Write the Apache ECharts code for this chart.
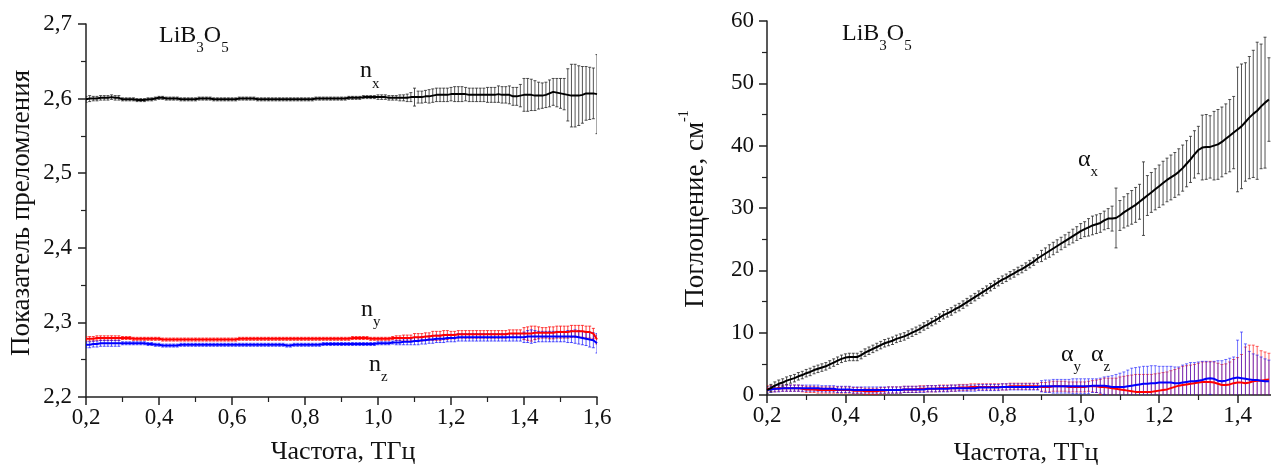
<!DOCTYPE html>
<html><head><meta charset="utf-8">
<script src="https://cdn.jsdelivr.net/npm/echarts@6/dist/echarts.min.js"></script>
<style>html,body{margin:0;padding:0;background:#fff}#c{width:1271px;height:466px}</style>
</head><body><div id="c"></div>
<script>
// Frequency grid, THz
const FREQ = [0.20,0.21,0.22,0.23,0.24,0.25,0.26,0.27,0.28,0.29,0.30,0.31,0.32,0.33,0.34,0.35,0.36,0.37,0.38,0.39,
0.40,0.41,0.42,0.43,0.44,0.45,0.46,0.47,0.48,0.49,0.50,0.51,0.52,0.53,0.54,0.55,0.56,0.57,0.58,0.59,
0.60,0.61,0.62,0.63,0.64,0.65,0.66,0.67,0.68,0.69,0.70,0.71,0.72,0.73,0.74,0.75,0.76,0.77,0.78,0.79,
0.80,0.81,0.82,0.83,0.84,0.85,0.86,0.87,0.88,0.89,0.90,0.91,0.92,0.93,0.94,0.95,0.96,0.97,0.98,0.99,
1.00,1.01,1.02,1.03,1.04,1.05,1.06,1.07,1.08,1.09,1.10,1.11,1.12,1.13,1.14,1.15,1.16,1.17,1.18,1.19,
1.20,1.21,1.22,1.23,1.24,1.25,1.26,1.27,1.28,1.29,1.30,1.31,1.32,1.33,1.34,1.35,1.36,1.37,1.38,1.39,
1.40,1.41,1.42,1.43,1.44,1.45,1.46,1.47,1.48,1.49,1.50,1.51,1.52,1.53,1.54,1.55,1.56,1.57,1.58,1.59,1.60];

// Refractive index n_x, n_y, n_z (0.20..1.60 THz)
const NX = [2.599,2.600,2.600,2.600,2.601,2.601,2.601,2.602,2.601,2.601,
2.599,2.599,2.599,2.599,2.598,2.598,2.598,2.599,2.599,2.600,
2.601,2.601,2.600,2.600,2.600,2.600,2.599,2.599,2.599,2.599,
2.599,2.600,2.600,2.600,2.600,2.599,2.599,2.599,2.599,2.599,
2.599,2.599,2.600,2.600,2.600,2.600,2.600,2.599,2.599,2.599,
2.599,2.599,2.599,2.599,2.599,2.599,2.599,2.599,2.599,2.599,
2.599,2.599,2.599,2.600,2.600,2.600,2.600,2.600,2.600,2.600,
2.600,2.600,2.601,2.601,2.601,2.601,2.602,2.602,2.602,2.602,
2.602,2.602,2.602,2.601,2.601,2.601,2.601,2.601,2.601,2.602,
2.602,2.602,2.602,2.603,2.603,2.604,2.605,2.605,2.605,2.605,
2.606,2.606,2.606,2.606,2.606,2.605,2.605,2.605,2.605,2.605,
2.605,2.605,2.605,2.606,2.605,2.605,2.605,2.603,2.603,2.604,
2.605,2.605,2.605,2.604,2.604,2.604,2.605,2.607,2.609,2.608,
2.607,2.606,2.605,2.604,2.604,2.604,2.605,2.607,2.607,2.607,2.606];
const NX_ERR = [0.004,0.004,0.003,0.003,0.003,0.003,0.003,0.003,0.003,0.003,
0.002,0.002,0.002,0.002,0.002,0.002,0.002,0.002,0.002,0.002,
0.002,0.002,0.002,0.002,0.002,0.002,0.002,0.002,0.002,0.002,
0.002,0.002,0.002,0.002,0.002,0.002,0.002,0.002,0.002,0.002,
0.002,0.002,0.002,0.002,0.002,0.002,0.002,0.002,0.002,0.002,
0.002,0.002,0.002,0.002,0.002,0.002,0.002,0.002,0.002,0.002,
0.002,0.002,0.002,0.002,0.002,0.002,0.002,0.002,0.002,0.002,
0.002,0.002,0.002,0.002,0.002,0.002,0.002,0.002,0.002,0.002,
0.003,0.003,0.003,0.003,0.003,0.003,0.004,0.004,0.005,0.006,
0.012,0.008,0.008,0.008,0.009,0.009,0.009,0.009,0.009,0.009,
0.009,0.010,0.010,0.010,0.009,0.009,0.009,0.009,0.009,0.009,
0.010,0.010,0.010,0.011,0.011,0.011,0.012,0.012,0.012,0.015,
0.022,0.022,0.021,0.020,0.018,0.017,0.017,0.018,0.018,0.019,
0.020,0.021,0.035,0.042,0.042,0.040,0.038,0.036,0.035,0.034,0.053];
const NY = [2.278,2.278,2.278,2.279,2.279,2.279,2.279,2.279,2.279,2.279,
2.279,2.279,2.279,2.278,2.278,2.278,2.278,2.278,2.278,2.278,
2.278,2.277,2.277,2.277,2.277,2.277,2.277,2.277,2.277,2.277,
2.277,2.277,2.277,2.277,2.277,2.277,2.277,2.277,2.277,2.277,
2.277,2.277,2.278,2.278,2.278,2.278,2.278,2.278,2.278,2.278,
2.278,2.278,2.278,2.278,2.278,2.278,2.278,2.278,2.278,2.278,
2.278,2.278,2.278,2.278,2.278,2.278,2.278,2.278,2.278,2.278,
2.278,2.278,2.278,2.279,2.279,2.279,2.279,2.279,2.278,2.278,
2.278,2.278,2.278,2.278,2.279,2.279,2.279,2.279,2.279,2.279,
2.280,2.280,2.280,2.281,2.281,2.282,2.282,2.282,2.283,2.283,
2.283,2.283,2.284,2.284,2.284,2.284,2.284,2.284,2.284,2.284,
2.284,2.284,2.284,2.284,2.284,2.284,2.285,2.285,2.285,2.285,
2.285,2.285,2.285,2.286,2.286,2.286,2.286,2.286,2.286,2.287,
2.287,2.287,2.287,2.288,2.288,2.288,2.288,2.287,2.287,2.285,2.277];
const NY_ERR = [0.003,0.003,0.003,0.003,0.003,0.003,0.003,0.003,0.003,0.003,
0.002,0.002,0.002,0.002,0.002,0.002,0.002,0.002,0.002,0.002,
0.002,0.002,0.002,0.002,0.002,0.002,0.002,0.002,0.002,0.002,
0.002,0.002,0.002,0.002,0.002,0.002,0.002,0.002,0.002,0.002,
0.002,0.002,0.002,0.002,0.002,0.002,0.002,0.002,0.002,0.002,
0.002,0.002,0.002,0.002,0.002,0.002,0.002,0.002,0.002,0.002,
0.002,0.002,0.002,0.002,0.002,0.002,0.002,0.002,0.002,0.002,
0.002,0.002,0.002,0.002,0.002,0.002,0.002,0.002,0.002,0.002,
0.002,0.002,0.002,0.002,0.002,0.003,0.003,0.004,0.004,0.004,
0.005,0.005,0.005,0.005,0.005,0.006,0.006,0.006,0.006,0.006,
0.005,0.005,0.005,0.005,0.005,0.005,0.005,0.005,0.005,0.005,
0.005,0.005,0.005,0.005,0.005,0.005,0.005,0.005,0.005,0.005,
0.008,0.009,0.010,0.009,0.008,0.007,0.007,0.008,0.008,0.008,
0.008,0.008,0.008,0.008,0.008,0.008,0.008,0.008,0.008,0.007,0.006];
const NZ = [2.270,2.270,2.271,2.271,2.272,2.272,2.272,2.272,2.272,2.272,
2.272,2.272,2.272,2.272,2.272,2.272,2.272,2.271,2.271,2.270,
2.270,2.269,2.269,2.269,2.269,2.269,2.270,2.270,2.270,2.270,
2.270,2.270,2.270,2.270,2.270,2.270,2.270,2.270,2.270,2.270,
2.270,2.270,2.270,2.270,2.270,2.270,2.270,2.270,2.270,2.270,
2.270,2.270,2.270,2.270,2.270,2.269,2.269,2.270,2.270,2.270,
2.270,2.270,2.270,2.270,2.270,2.271,2.271,2.271,2.271,2.271,
2.271,2.271,2.271,2.271,2.271,2.271,2.271,2.271,2.271,2.271,
2.272,2.272,2.272,2.272,2.273,2.273,2.273,2.274,2.274,2.274,
2.275,2.275,2.276,2.276,2.277,2.277,2.278,2.278,2.278,2.279,
2.279,2.279,2.280,2.280,2.280,2.280,2.280,2.280,2.280,2.280,
2.280,2.280,2.280,2.280,2.280,2.280,2.280,2.280,2.280,2.280,
2.280,2.281,2.281,2.281,2.281,2.281,2.281,2.281,2.281,2.281,
2.281,2.281,2.281,2.281,2.281,2.280,2.279,2.278,2.277,2.276,2.272];
const NZ_ERR = [0.004,0.004,0.004,0.004,0.004,0.004,0.004,0.004,0.004,0.004,
0.002,0.002,0.002,0.002,0.002,0.002,0.002,0.002,0.002,0.002,
0.002,0.002,0.002,0.002,0.002,0.002,0.002,0.002,0.002,0.002,
0.002,0.002,0.002,0.002,0.002,0.002,0.002,0.002,0.002,0.002,
0.002,0.002,0.002,0.002,0.002,0.002,0.002,0.002,0.002,0.002,
0.002,0.002,0.002,0.002,0.002,0.002,0.002,0.002,0.002,0.002,
0.002,0.002,0.002,0.002,0.002,0.002,0.002,0.002,0.002,0.002,
0.002,0.002,0.002,0.002,0.002,0.002,0.002,0.002,0.002,0.002,
0.002,0.002,0.002,0.002,0.002,0.003,0.003,0.004,0.004,0.004,
0.005,0.005,0.005,0.005,0.005,0.005,0.005,0.005,0.005,0.005,
0.005,0.005,0.005,0.005,0.005,0.005,0.005,0.005,0.005,0.005,
0.005,0.005,0.005,0.005,0.005,0.005,0.005,0.005,0.005,0.005,
0.007,0.008,0.009,0.008,0.007,0.007,0.007,0.007,0.007,0.007,
0.007,0.007,0.008,0.008,0.009,0.009,0.009,0.009,0.010,0.010,0.013];

// Absorption alpha_x, alpha_y, alpha_z, cm^-1 (0.20..1.48 THz)
const AX = [0.8,1.1,1.5,1.8,2.0,2.3,2.5,2.7,3.0,3.2,
3.5,3.7,4.0,4.2,4.4,4.6,4.9,5.2,5.5,5.8,
6.0,6.1,6.1,6.1,6.4,6.8,7.1,7.4,7.7,8.0,
8.3,8.5,8.7,9.0,9.2,9.4,9.7,10.0,10.3,10.6,
11.0,11.3,11.7,12.0,12.4,12.8,13.1,13.4,13.8,14.1,
14.5,14.9,15.3,15.7,16.1,16.5,16.9,17.3,17.7,18.1,
18.5,18.8,19.2,19.5,19.9,20.2,20.6,21.0,21.4,21.9,
22.3,22.7,23.1,23.5,23.9,24.3,24.7,25.1,25.5,25.9,
26.3,26.6,26.9,27.2,27.4,27.6,28.0,28.3,28.3,28.4,
28.8,29.3,29.7,30.1,30.5,31.0,31.5,32.0,32.5,33.0,
33.5,34.0,34.5,34.9,35.3,35.8,36.4,37.1,37.8,38.6,
39.3,39.7,39.8,39.8,40.0,40.2,40.6,41.1,41.6,42.1,
42.6,43.1,43.8,44.5,45.1,45.6,46.3,46.9,47.4];
const AX_ERR = [0.6,0.6,0.6,0.6,0.6,0.6,0.6,0.6,0.6,0.6,
0.6,0.6,0.6,0.6,0.6,0.6,0.6,0.6,0.6,0.6,
0.6,0.6,0.6,0.6,0.6,0.6,0.6,0.6,0.6,0.6,
0.6,0.6,0.6,0.6,0.6,0.6,0.6,0.6,0.6,0.6,
0.6,0.6,0.6,0.6,0.6,0.6,0.6,0.6,0.6,0.6,
0.6,0.6,0.6,0.6,0.6,0.6,0.6,0.6,0.6,0.6,
0.6,0.6,0.6,0.6,0.6,0.6,0.6,0.6,0.6,0.6,
0.9,0.9,1.0,1.0,1.0,1.0,1.0,1.0,1.1,1.1,
1.2,1.2,1.4,1.5,1.5,1.5,1.5,1.6,2.0,4.8,
2.4,2.5,2.6,2.7,2.8,2.8,5.9,3.2,3.2,3.3,
3.4,3.5,3.5,3.6,3.6,3.7,3.7,3.7,3.7,3.8,
3.8,5.2,5.2,5.0,5.5,5.6,5.6,5.6,5.8,5.8,
10.0,10.0,9.5,9.8,10.2,11.0,10.0,10.5,6.7];
const AY = [1.0,1.0,1.0,1.1,1.1,1.1,1.1,1.1,1.1,1.0,
0.9,0.9,0.9,0.8,0.8,0.8,0.8,0.8,0.8,0.8,
0.8,0.8,0.7,0.7,0.7,0.6,0.6,0.6,0.6,0.7,
0.7,0.8,0.8,0.8,0.8,0.9,0.9,0.9,0.9,1.0,
1.0,1.0,1.0,1.0,1.1,1.1,1.1,1.1,1.1,1.2,
1.2,1.2,1.3,1.3,1.3,1.3,1.3,1.3,1.3,1.3,
1.3,1.3,1.4,1.4,1.4,1.4,1.4,1.4,1.4,1.4,
1.3,1.3,1.3,1.4,1.4,1.4,1.4,1.3,1.3,1.3,
1.3,1.3,1.4,1.4,1.4,1.3,1.3,1.2,1.1,1.0,
0.9,0.8,0.7,0.6,0.5,0.5,0.5,0.5,0.5,0.6,
0.7,0.8,0.9,1.1,1.3,1.5,1.6,1.7,1.8,1.9,
2.0,2.1,2.1,2.1,2.0,1.8,1.6,1.6,1.7,1.9,
2.0,2.0,1.9,2.0,2.2,2.3,2.3,2.4,2.5];
const AY_ERR = [0.5,0.5,0.5,0.5,0.5,0.5,0.5,0.5,0.5,0.5,
0.5,0.5,0.5,0.5,0.5,0.5,0.5,0.5,0.5,0.5,
0.5,0.5,0.5,0.5,0.5,0.5,0.5,0.5,0.5,0.5,
0.5,0.5,0.5,0.5,0.5,0.5,0.5,0.5,0.5,0.5,
0.5,0.5,0.5,0.5,0.5,0.5,0.5,0.5,0.5,0.5,
0.5,0.5,0.5,0.5,0.5,0.5,0.5,0.5,0.5,0.5,
0.5,0.5,0.5,0.5,0.5,0.5,0.5,0.5,0.5,0.5,
0.7,0.7,0.8,0.8,0.8,0.8,0.8,0.8,0.8,0.8,
0.8,0.8,0.8,0.9,1.0,1.2,1.4,1.5,1.6,1.7,
2.0,2.2,2.4,2.6,2.8,2.8,2.8,2.8,2.8,2.8,
2.8,2.8,2.8,2.8,2.8,2.8,3.0,3.0,3.0,3.0,
3.1,3.2,3.2,3.3,3.3,3.3,3.3,3.4,3.6,3.8,
4.0,4.5,5.8,6.0,5.8,5.5,4.8,4.5,4.2];
const AZ = [0.8,0.9,1.0,1.0,1.1,1.1,1.1,1.1,1.1,1.1,
1.1,1.1,1.1,1.1,1.0,1.0,1.0,1.0,0.9,0.9,
0.9,0.9,0.8,0.8,0.8,0.8,0.8,0.8,0.8,0.8,
0.8,0.8,0.8,0.8,0.8,0.9,0.9,0.9,0.9,0.9,
0.9,1.0,1.0,1.0,1.0,1.0,1.0,1.1,1.1,1.1,
1.1,1.1,1.1,1.1,1.2,1.2,1.2,1.2,1.2,1.2,
1.3,1.3,1.3,1.3,1.3,1.3,1.3,1.3,1.3,1.3,
1.4,1.4,1.4,1.4,1.4,1.4,1.4,1.4,1.4,1.4,
1.4,1.4,1.4,1.5,1.5,1.5,1.5,1.4,1.3,1.3,
1.3,1.3,1.4,1.5,1.6,1.7,1.8,1.8,1.9,1.9,
2.0,2.0,2.0,2.0,1.9,1.9,2.0,2.1,2.2,2.2,
2.3,2.4,2.6,2.7,2.6,2.3,2.2,2.3,2.5,2.7,
2.8,2.7,2.6,2.5,2.4,2.4,2.3,2.2,2.2];
const AZ_ERR = [0.5,0.5,0.5,0.5,0.5,0.5,0.5,0.5,0.5,0.5,
0.5,0.5,0.5,0.5,0.5,0.5,0.5,0.5,0.5,0.5,
0.5,0.5,0.5,0.5,0.5,0.5,0.5,0.5,0.5,0.5,
0.5,0.5,0.5,0.5,0.5,0.5,0.5,0.5,0.5,0.5,
0.5,0.5,0.5,0.5,0.5,0.5,0.5,0.5,0.5,0.5,
0.5,0.5,0.5,0.5,0.5,0.5,0.5,0.5,0.5,0.5,
0.5,0.5,0.5,0.5,0.5,0.5,0.5,0.5,0.5,0.5,
0.9,1.0,1.0,1.1,1.1,1.1,1.1,1.1,1.2,1.2,
1.2,1.2,1.2,1.1,1.1,1.2,1.4,1.6,1.8,2.0,
2.2,2.4,2.6,2.8,2.8,2.8,2.8,2.8,2.8,2.8,
2.6,2.6,2.6,2.6,2.6,2.6,2.8,2.9,3.0,3.0,
3.0,3.0,2.8,2.6,2.8,3.2,3.3,3.4,3.4,3.4,
6.0,7.4,5.6,4.5,4.2,4.0,3.8,3.6,3.4];

const X_TITLE = 'Частота, ТГц';
const Y_TITLE_LEFT = 'Показатель преломления';
const Y_TITLE_RIGHT = 'Поглощение, см';

// ---------- rendering ----------
const FAMILY = 'Liberation Serif';
const FONT = '"Liberation Serif", serif';
const INK = '#111';
const mctx = document.createElement('canvas').getContext('2d');
function tw(t, s) { mctx.font = s + 'px ' + FONT; return mctx.measureText(t).width; }
function rich(x, y, parts, size, small, opt) {
  opt = opt || {};
  let cx = 0; const kids = [];
  parts.forEach(function (p) {
    const t = p[0], k = p[1];
    const s = k === 'n' ? size : small;
    const dy = k === 'sub' ? size * (opt.subDy || 0.5) : (k === 'sup' ? -size * (opt.supDy || 0.42) : 0);
    kids.push({ type: 'text', x: cx, y: dy, style: { text: t, font: s + 'px ' + FONT, fill: INK, align: 'left', verticalAlign: 'middle' } });
    cx += tw(t, s);
  });
  if (opt.center) kids.forEach(function (k) { k.x -= cx / 2; });
  return { type: 'group', x: x, y: y, rotation: opt.rot || 0, children: kids };
}

function pairs(vals) { return vals.map(function (v, i) { return [FREQ[i], v]; }); }
function errs(vals, e) { return vals.map(function (v, i) { return [FREQ[i], v - e[i], v + e[i]]; }); }
function errRender(color, cap) {
  return function (params, api) {
    const x = api.value(0), lo = api.value(1), hi = api.value(2);
    const a = api.coord([x, hi]), b = api.coord([x, lo]);
    const st = { stroke: color, lineWidth: 1 };
    return { type: 'group', children: [
      { type: 'line', shape: { x1: a[0], y1: a[1], x2: b[0], y2: b[1] }, style: st },
      { type: 'line', shape: { x1: a[0] - cap, y1: a[1], x2: a[0] + cap, y2: a[1] }, style: st },
      { type: 'line', shape: { x1: b[0] - cap, y1: b[1], x2: b[0] + cap, y2: b[1] }, style: st }
    ] };
  };
}
function errSeries(idx, vals, e, color, z) {
  return { type: 'custom', xAxisIndex: idx, yAxisIndex: idx, data: errs(vals, e), clip: true, z: z,
    encode: { x: 0, y: [1, 2] }, renderItem: errRender(color, 1.5), silent: true };
}
function lineSeries(idx, vals, color, z) {
  return { type: 'line', xAxisIndex: idx, yAxisIndex: idx, data: pairs(vals), showSymbol: false, symbol: 'none',
    lineStyle: { color: color, width: 2 }, itemStyle: { color: color }, z: z, silent: true, clip: true };
}
const comma = function (d) { return function (v) { return v.toFixed(d).replace('.', ','); }; };
const axisCommon = {
  axisLine: { show: true, onZero: false, lineStyle: { color: '#222', width: 1.5 } },
  axisTick: { show: true, inside: false, length: 8, lineStyle: { color: '#222', width: 1.5 } },
  minorTick: { show: true, splitNumber: 2, length: 5, lineStyle: { color: '#222', width: 1.2 } },
  splitLine: { show: false }, minorSplitLine: { show: false }
};
function axis(extra, label) {
  return Object.assign({}, JSON.parse(JSON.stringify(axisCommon)), extra, {
    axisLabel: Object.assign({ color: INK, fontFamily: FAMILY, fontSize: 23, fontWeight: 'normal' }, label)
  });
}

const chart = echarts.init(document.getElementById('c'), null, { renderer: 'canvas' });
chart.setOption({
  animation: false,
  backgroundColor: '#fff',
  textStyle: { fontFamily: FAMILY },
  grid: [
    { left: 86, top: 24, width: 511, height: 373, outerBoundsMode: 'none', containLabel: false },
    { left: 767, top: 21, width: 549, height: 374, outerBoundsMode: 'none', containLabel: false }
  ],
  xAxis: [
    axis({ type: 'value', gridIndex: 0, min: 0.2, max: 1.6, interval: 0.2 }, { formatter: comma(1), margin: 9 }),
    axis({ type: 'value', gridIndex: 1, min: 0.2, max: 1.6, interval: 0.2 }, { formatter: comma(1), margin: 9 })
  ],
  yAxis: [
    axis({ type: 'value', gridIndex: 0, min: 2.2, max: 2.7, interval: 0.1 }, { formatter: comma(1), margin: 14 }),
    axis({ type: 'value', gridIndex: 1, min: 0, max: 60, interval: 10 }, { formatter: comma(0), margin: 13 })
  ],
  series: [
    errSeries(0, NY, NY_ERR, 'rgba(255,0,0,0.75)', 2),
    errSeries(0, NZ, NZ_ERR, 'rgba(0,0,255,0.65)', 3),
    errSeries(0, NX, NX_ERR, 'rgba(40,40,40,0.8)', 4),
    lineSeries(0, NY, '#ff0000', 5),
    lineSeries(0, NZ, '#0000ff', 6),
    lineSeries(0, NX, '#000000', 7),
    errSeries(1, AY, AY_ERR, 'rgba(255,0,0,0.6)', 2),
    errSeries(1, AZ, AZ_ERR, 'rgba(0,0,255,0.55)', 3),
    errSeries(1, AX, AX_ERR, 'rgba(40,40,40,0.8)', 4),
    lineSeries(1, AY, '#ff0000', 5),
    lineSeries(1, AZ, '#0000ff', 6),
    lineSeries(1, AX, '#000000', 7)
  ],
  graphic: [
    rich(159, 36, [['LiB', 'n'], ['3', 'sub'], ['O', 'n'], ['5', 'sub']], 24, 15),
    rich(842, 34, [['LiB', 'n'], ['3', 'sub'], ['O', 'n'], ['5', 'sub']], 24, 15),
    rich(360, 71, [['n', 'n'], ['x', 'sub']], 24, 15, { subDy: 0.56 }),
    rich(361, 310, [['n', 'n'], ['y', 'sub']], 24, 15, { subDy: 0.5 }),
    rich(369, 365, [['n', 'n'], ['z', 'sub']], 24, 15, { subDy: 0.5 }),
    rich(1078, 160, [['α', 'n'], ['x', 'sub']], 24, 15, { subDy: 0.5 }),
    rich(1061, 355, [['α', 'n'], ['y', 'sub']], 24, 15, { subDy: 0.5 }),
    rich(1091, 355, [['α', 'n'], ['z', 'sub']], 24, 15, { subDy: 0.5 }),
    rich(343, 452, [[X_TITLE, 'n']], 26, 14, { center: true }),
    rich(1026, 453, [[X_TITLE, 'n']], 26, 14, { center: true }),
    rich(22, 213, [[Y_TITLE_LEFT, 'n']], 27, 14, { center: true, rot: Math.PI / 2 }),
    rich(696, 209, [[Y_TITLE_RIGHT, 'n'], ['-1', 'sup']], 27, 14, { center: true, rot: Math.PI / 2, supDy: 0.45 })
  ]
});
</script>
</body></html>
